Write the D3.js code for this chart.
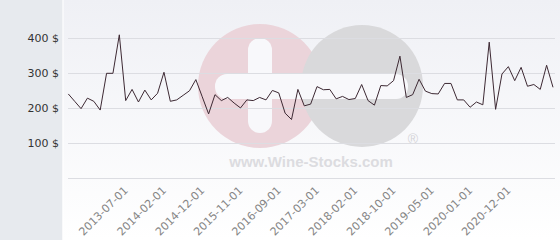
<!DOCTYPE html>
<html><head><meta charset="utf-8">
<script src="https://cdn.jsdelivr.net/npm/d3@7"></script>
<style>html,body{margin:0;padding:0;background:#fff}svg{display:block}</style>
</head><body>
<script>
// Price series (one value per sample, in $)
const values = [241,220,199,229,220,195,300,300,410,222,254,218,252,224,243,303,
  220,224,237,250,282,233,184,239,222,231,215,201,224,222,231,
  224,251,244,186,168,254,207,212,262,253,254,227,234,225,228,
  268,222,209,265,264,279,349,231,239,283,249,242,241,271,271,
  224,224,203,218,210,389,197,298,319,279,317,263,268,254,323,260];
// x-axis labelled categories (every 6th sample starting at index 9)
const tickIndex = [9,15,21,27,33,39,45,51,57,63,69];
const tickLabels = ["2013-07-01","2014-02-01","2014-12-01","2015-11-01","2016-09-01",
  "2017-03-01","2018-02-01","2018-10-01","2019-05-01","2020-01-01","2020-12-01"];
const yTicks = [100,200,300,400];

const W = 560, H = 240;
const svg = d3.select("body").append("svg").attr("width", W).attr("height", H);
const defs = svg.append("defs");
const g = defs.append("linearGradient").attr("id","bg").attr("x1",0).attr("y1",0).attr("x2",0).attr("y2",1);
g.append("stop").attr("offset","0%").attr("stop-color","#eff0f5");
g.append("stop").attr("offset","100%").attr("stop-color","#ffffff");

svg.append("rect").attr("width",W).attr("height",H).attr("fill","url(#bg)");
svg.append("rect").attr("width",62.5).attr("height",H).attr("fill","#e7eaee");
svg.append("line").attr("x1",63).attr("x2",63).attr("y1",0).attr("y2",H).attr("stroke","#ffffff").attr("stroke-width",1);

const x = d3.scaleLinear().domain([0, values.length-1]).range([68.3, 553]);
const y = d3.scaleLinear().domain([0, 400]).range([178.3, 38.3]);

// watermark
const wm = svg.append("g");
wm.append("circle").attr("cx",260).attr("cy",86).attr("r",62).attr("fill","#ebd4da");
wm.append("circle").attr("cx",362).attr("cy",86).attr("r",61).attr("fill","#d9d9db");
wm.append("rect").attr("x",215).attr("y",74).attr("width",193).attr("height",25).attr("rx",12).attr("fill","#f8f8fb");
wm.append("rect").attr("x",248).attr("y",38).attr("width",24).attr("height",95).attr("rx",12).attr("fill","#f8f8fb");
wm.append("text").attr("x",311).attr("y",167).attr("text-anchor","middle")
  .attr("font-family","Liberation Sans, Arial, sans-serif").attr("font-weight","bold").attr("font-size",15)
  .attr("fill","#dcdce0").text("www.Wine-Stocks.com");
wm.append("text").attr("x",413).attr("y",144).attr("text-anchor","middle")
  .attr("font-family","Liberation Sans, Arial, sans-serif").attr("font-size",14)
  .attr("fill","#d4d4d8").text("®");

// grid
svg.append("g").selectAll("line").data([0].concat(yTicks)).join("line")
  .attr("x1",68).attr("x2",555).attr("y1",d=>Math.round(y(d))+0.5).attr("y2",d=>Math.round(y(d))+0.5)
  .attr("stroke","#dcdde2").attr("stroke-width",1);

// y labels
svg.append("g").selectAll("text").data(yTicks).join("text")
  .attr("x",59).attr("y",d=>y(d)+4).attr("text-anchor","end")
  .attr("font-family","DejaVu Sans, sans-serif").attr("font-size",11).attr("fill","#333")
  .text(d=>d+" $");

// x labels
svg.append("g").selectAll("text").data(tickIndex).join("text")
  .attr("text-anchor","end")
  .attr("transform",d=>`translate(${x(d)+3},191) rotate(-45)`)
  .attr("font-family","DejaVu Sans, sans-serif").attr("font-size",11).attr("fill","#858585")
  .text((d,i)=>tickLabels[i]);

// line
svg.append("path").datum(values)
  .attr("d", d3.line().x((d,i)=>x(i)).y(d=>y(d)))
  .attr("fill","none").attr("stroke","#3d2933").attr("stroke-width",1);
</script>
</body></html>
